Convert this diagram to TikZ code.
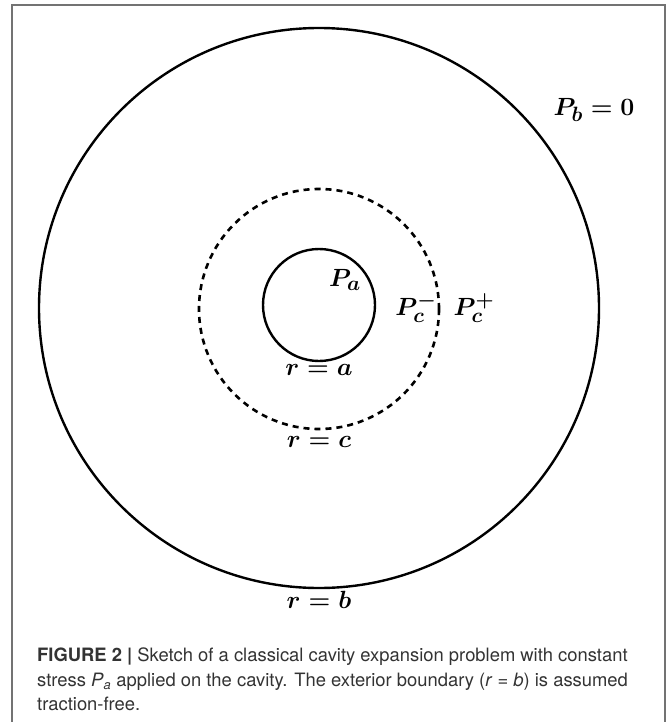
\documentclass[tikz,border=0pt]{standalone}
\usepackage{fontspec}
\newfontfamily\capfont{TeX Gyre Heros}
\usetikzlibrary{positioning}

\begin{document}
\begin{tikzpicture}[x=1pt, y=-1pt,
  ring/.style={draw, circle, line width=2.4pt, inner sep=0pt},
  lab/.style={font=\fontsize{31}{34}\selectfont\boldmath, inner sep=0pt},
  frame/.style={draw=black!55, line width=1.2pt},
  caption/.style={font=\capfont\fontsize{18.4}{24.5}\selectfont, text=black!80, align=left, inner sep=0pt}]
  \useasboundingbox (0,0) rectangle (667,722);
  \draw[frame] (12,722) -- (12,5) -- (665,5) -- (665,722);

  % rings
  \node[ring, minimum size=560pt] (shell) at (319,308) {};
  \node[ring, dash pattern=on 6pt off 5pt, line width=2.6pt, minimum size=240pt] (interface) at (319,309) {};
  \node[ring, minimum size=112pt] (cavity) at (319,305) {};

  % labels
  \node[lab] (pa) at (345,280) {$P_a$};
  \node[lab, below=2pt of cavity] (ra) {$r = a$};
  \node[lab] (pcm) at (416,308) {$P_c^-$};
  \node[lab] (pcp) at (474,308) {$P_c^+$};
  \node[lab, below=6pt of interface] (rc) {$r = c$};
  \node[lab, below=2pt of shell] (rb) {$r = b$};
  \node[lab] (pb) at (594,110) {$P_b = 0$};

  \node[caption, anchor=north west] (cap) at (37,648) {\textbf{FIGURE 2 |} Sketch of a classical cavity expansion problem with constant\\
  stress \textit{P}\textsubscript{\textit{a}} applied on the cavity. The exterior boundary (\textit{r} = \textit{b}) is assumed\\
  traction-free.};
\end{tikzpicture}
\end{document}
